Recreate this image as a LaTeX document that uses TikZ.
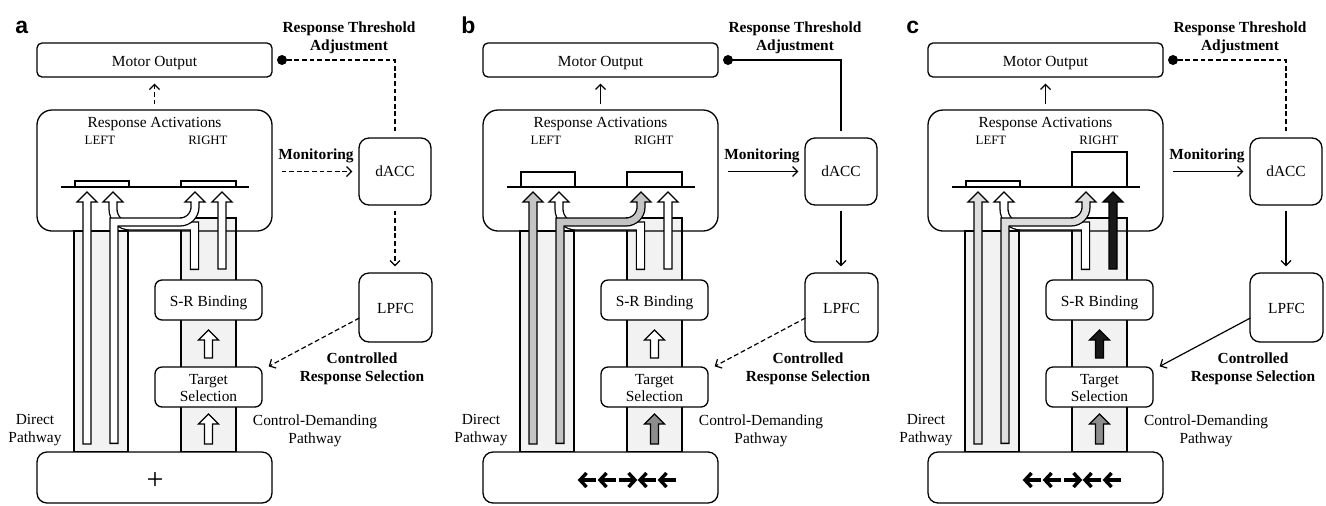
\documentclass[tikz,border=0pt]{standalone}
\usepackage{fontspec}
\setmainfont{Liberation Serif}
\setsansfont{Liberation Sans}
\usetikzlibrary{arrows.meta,calc}
\definecolor{stripc}{HTML}{F2F2F2}
\definecolor{dgrayb}{HTML}{C4C4C4}
\definecolor{lgrayc}{HTML}{DEDEDE}
\definecolor{mgray}{HTML}{8C8C8C}
\newcommand\txtfont{\fontsize{7.7}{9.3}\selectfont}
\tikzset{
  box/.style={draw, line width=0.65pt, fill=white, inner sep=0pt},
  txt/.style={inner sep=0pt, font=\txtfont, anchor=base},
  btxt/.style={inner sep=0pt, font=\txtfont\bfseries, anchor=base},
  stxt/.style={inner sep=0pt, font=\fontsize{6.4}{7.5}\selectfont, anchor=base},
  lbl/.style={inner sep=0pt, font=\fontsize{11.5}{12}\selectfont\sffamily\bfseries, anchor=base west},
  strip/.style={draw, line width=0.65pt, fill=stripc},
  harr/.style={draw, line width=0.65pt, line join=miter},
  con/.style={line width=0.6pt, -{Straight Barb[length=2.5pt,width=5pt]}},
  plain/.style={line width=0.6pt},
  dsh/.style={dash pattern=on 2.4pt off 1.4pt},
  dot/.style={circle, fill=black, inner sep=0pt, minimum size=5pt},
  stimarr/.style={line width=1.7pt, line join=miter},
}
% straight hollow arrow: fill, cx, ybottom, ytip
\newcommand\harrow[4]{%
  \filldraw[harr, fill=#1] ({#2-4},#3) -- ({#2-4},{#4+10}) -- ({#2-10},{#4+10}) -- (#2,#4)
    -- ({#2+10},{#4+10}) -- ({#2+4},{#4+10}) -- ({#2+4},#3) -- cycle;}
% bent hollow arrow: fill, cx of head (tip at 192, base at 202), path
\newcommand\barrow[3]{%
  \draw[line width=4.6pt, line join=miter] #3;
  \draw[line width=3.3pt, draw=#1, line join=miter, shorten <=0.65pt] #3;
  \fill[#1] ({#2-4},203) -- ({#2-4},202) -- ({#2-10},202) -- (#2,192) -- ({#2+10},202) -- ({#2+4},202) -- ({#2+4},203) -- cycle;
  \draw[harr] ({#2-4},203) -- ({#2-4},202) -- ({#2-10},202) -- (#2,192) -- ({#2+10},202) -- ({#2+4},202) -- ({#2+4},203);}
\newcommand\stimplus{\node[inner sep=0pt, font=\fontsize{15}{15}\selectfont] (stimtxt) at (155,481) {+};}
\newcommand\stimarrows{%
  \foreach \k/\d in {0/-1,1/-1,2/1,3/-1,4/-1}{%
    \pgfmathsetmacro\xl{133+20*\k}%
    \pgfmathsetmacro\xr{150+20*\k}%
    \ifnum\d<0
      \draw[stimarr] (\xr,480) -- ({\xl+2},480);
      \draw[stimarr] ({\xl+7.5},473) -- ({\xl+1},480) -- ({\xl+7.5},487);
    \else
      \draw[stimarr] (\xl,480) -- ({\xr-2},480);
      \draw[stimarr] ({\xr-7.5},473) -- ({\xr-1},480) -- ({\xr-7.5},487);
    \fi}}
% panel: #1 letter, #2 stimulus, #3 left bar top, #4 right bar top
\newcommand\panel[4]{%
  \node[lbl] (lab#1) at (15,33) {#1};
  \draw[strip] (74,231) rectangle (128,452);
  \draw[strip] (181,218) rectangle (236,452);
  \node[box, fill=none, rounded corners=7.5pt, minimum width=117.5pt, minimum height=60.5pt] (ra#1) at (154.5,170.5) {};
  \node[box, rounded corners=2.5pt, minimum width=117.5pt, minimum height=17pt] (mo#1) at (154.5,60) {};
  \node[box, rounded corners=5pt, minimum width=36pt, minimum height=33.5pt] (dacc#1) at (395,171.5) {};
  \node[box, rounded corners=5pt, minimum width=36.5pt, minimum height=34.5pt] (lpfc#1) at (395.5,307.5) {};
  \node[box, rounded corners=3.5pt, minimum width=53.5pt, minimum height=20pt] (sr#1) at (208.5,300) {};
  \node[box, rounded corners=3.5pt, minimum width=53.5pt, minimum height=20pt] (ts#1) at (208.5,387) {};
  \node[box, rounded corners=5pt, minimum width=117.5pt, minimum height=25.5pt] (stim#1) at (154.5,477.5) {};
  \draw[line width=0.65pt] (61,187) -- (249,187);
  \draw[line width=0.65pt, fill=white] (75,#3) rectangle (129,187);
  \draw[line width=0.65pt, fill=white] (181,#4) rectangle (236,187);
  % texts
  \node[txt] (mot#1) at (154.5,66.5) {Motor Output};
  \node[txt] (rat#1) at (154.5,127) {Response Activations};
  \node[stxt] (left#1) at (100,144) {LEFT};
  \node[stxt] (right#1) at (208,144) {RIGHT};
  \node[txt] (dacct#1) at (395,176.7) {dACC};
  \node[txt] (lpfct#1) at (395.5,313) {LPFC};
  \node[txt] (srt#1) at (208.5,306) {S-R Binding};
  \node[txt] (tst#1) at (208.5,384) {Target};
  \node[txt] (tsu#1) at (208.5,401.7) {Selection};
  \node[btxt] (rta#1) at (349,32.3) {Response Threshold};
  \node[btxt] (rtb#1) at (349,50) {Adjustment};
  \node[btxt] (mon#1) at (316,159) {Monitoring};
  \node[btxt] (crs#1) at (362,363.3) {Controlled};
  \node[btxt] (crt#1) at (362,381.7) {Response Selection};
  \node[txt] (dpa#1) at (35,424) {Direct};
  \node[txt] (dpb#1) at (35,442.7) {Pathway};
  \node[txt] (cda#1) at (315,425.7) {Control-Demanding};
  \node[txt] (cdb#1) at (315,443.3) {Pathway};
  #2
  % pathway arrows
  \harrow{\dirfill}{87}{444}{192}
  \harrow{\rfill}{222}{269}{192}
  \barrow{\bfill}{113}{(194.5,270) -- (194.5,226) -- (130,226) .. controls (120.6,226) and (113,218.4) .. (113,209) -- (113,202)}
  \barrow{\dirfill}{195}{(114,444) -- (114,222) -- (180,222) .. controls (188.3,222) and (195,215.3) .. (195,207) -- (195,202)}
  \harrow{\midfill}{208.5}{358}{330}
  \harrow{\lowfill}{208.5}{444}{414}
  % connectors
  \draw[con, mostyle, shorten <=2.5pt, shorten >=3pt] (ra#1.north) -- (mo#1.south);
  \node[dot] (dot#1) at (282,60) {};
  \draw[plain, thrstyle, shorten <=3pt] (dacc#1.north) -- (dacc#1.north |- dot#1.center) -- (dot#1.center);
  \draw[con, monstyle, shorten <=4.5pt, shorten >=3pt] (ra#1.east |- dacc#1.west) -- (dacc#1.west);
  \draw[con, dlstyle, shorten <=2.5pt, shorten >=3pt] (dacc#1.south) -- (dacc#1.south |- lpfc#1.north);
  \draw[con, lpstyle] ($(lpfc#1.west)+(1,10.5)$) -- ($(ts#1.north east)+(6,0)$);
}
\begin{document}
\begin{tikzpicture}[x=0.5pt, y=-0.5pt]
\useasboundingbox (0,0) rectangle (1326,505);
% panel a
\tikzset{mostyle/.style={dsh}, thrstyle/.style={dsh}, monstyle/.style={dsh}, dlstyle/.style={dsh}, lpstyle/.style={dsh}}
\def\dirfill{white}\def\bfill{white}\def\rfill{white}\def\midfill{white}\def\lowfill{white}
\panel{a}{\stimplus}{181}{181}
% panel b
\begin{scope}[xshift=223pt]
\tikzset{mostyle/.style={}, thrstyle/.style={}, monstyle/.style={}, dlstyle/.style={}, lpstyle/.style={dsh}}
\def\dirfill{dgrayb}\def\bfill{white}\def\rfill{white}\def\midfill{white}\def\lowfill{mgray}
\panel{b}{\stimarrows}{172}{172}
\end{scope}
% panel c
\begin{scope}[xshift=445.5pt]
\tikzset{mostyle/.style={}, thrstyle/.style={dsh}, monstyle/.style={}, dlstyle/.style={}, lpstyle/.style={}}
\def\dirfill{lgrayc}\def\bfill{white}\def\rfill{black!90}\def\midfill{black!90}\def\lowfill{mgray}
\panel{c}{\stimarrows}{181}{152}
\end{scope}
\end{tikzpicture}
\end{document}
